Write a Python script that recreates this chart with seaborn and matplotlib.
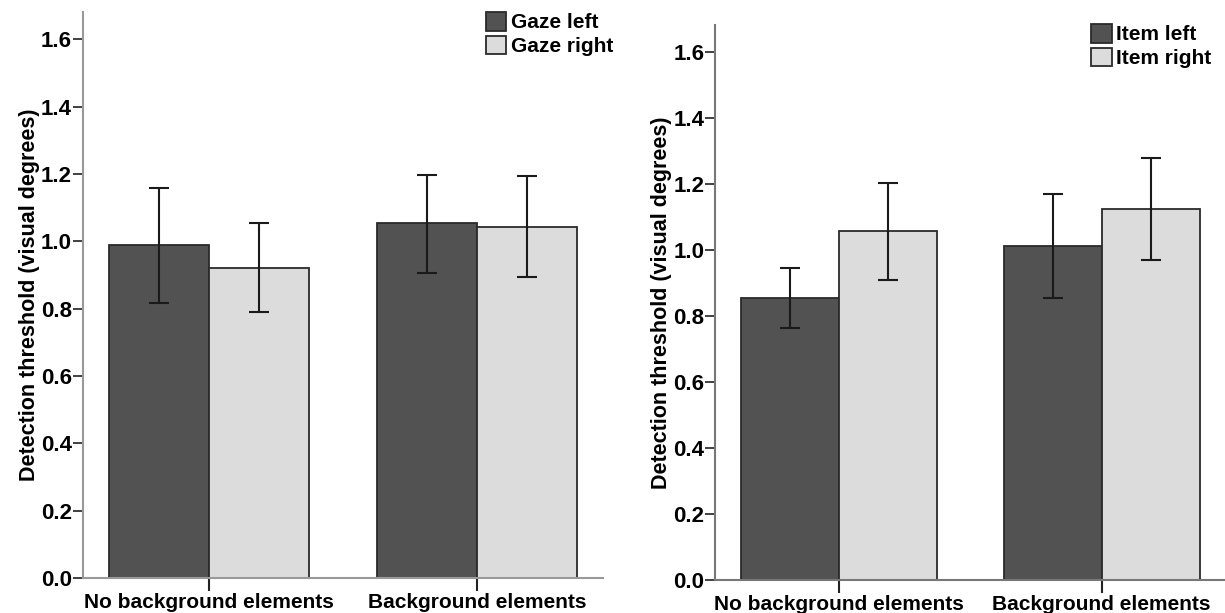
import numpy as np
import pandas as pd
import matplotlib
matplotlib.use("Agg")
import matplotlib.pyplot as plt
import seaborn as sns

conditions = ["No background elements", "Background elements"]

gaze_levels = ["Gaze left", "Gaze right"]
gaze_left_mean = [0.988, 1.053]
gaze_left_lo = [0.818, 0.905]
gaze_left_hi = [1.157, 1.197]
gaze_right_mean = [0.922, 1.043]
gaze_right_lo = [0.790, 0.893]
gaze_right_hi = [1.053, 1.193]

item_levels = ["Item left", "Item right"]
item_left_mean = [0.855, 1.012]
item_left_lo = [0.762, 0.853]
item_left_hi = [0.946, 1.170]
item_right_mean = [1.057, 1.123]
item_right_lo = [0.908, 0.968]
item_right_hi = [1.203, 1.278]

y_ticks = [0.0, 0.2, 0.4, 0.6, 0.8, 1.0, 1.2, 1.4, 1.6]
y_label = "Detection threshold (visual degrees)"

sns.set_theme(style="white")
plt.rcParams['font.family'] = ['Liberation Sans', 'DejaVu Sans']
plt.rcParams['text.color'] = 'black'
plt.rcParams['axes.labelcolor'] = 'black'
plt.rcParams['xtick.color'] = 'black'
plt.rcParams['ytick.color'] = 'black'

DARK = "#525252"
LIGHT = "#dcdcdc"

fig = plt.figure(figsize=(12.25, 6.13), dpi=100)
ax1 = fig.add_axes([0.0678, 0.057, 0.4242, 0.923])
ax2 = fig.add_axes([0.584, 0.054, 0.416, 0.905])


def draw(ax, levels, means, los, his, leg_anchor, spine_color):
    rows = []
    for lvl, m in zip(levels, means):
        for c, v in zip(conditions, m):
            rows.append({"cond": c, "level": lvl, "value": v})
    df = pd.DataFrame(rows)
    sns.barplot(data=df, x="cond", y="value", hue="level", order=conditions,
                hue_order=levels, palette=[DARK, LIGHT], width=0.746,
                errorbar=None, edgecolor="#2a2a2a", linewidth=1.3,
                saturation=1, ax=ax)
    for cont, lo, hi in zip(ax.containers, los, his):
        for bar, l, h in zip(cont, lo, hi):
            xc = bar.get_x() + bar.get_width() / 2
            ax.errorbar([xc], [(l + h) / 2], yerr=[[(h - l) / 2], [(h - l) / 2]],
                        fmt="none", ecolor="#1a1a1a", elinewidth=1.5,
                        capsize=7.2, capthick=1.5, zorder=5)
    ax.set_ylim(0, 1.68)
    ax.set_xlim(-0.47, 1.47)
    ax.set_yticks(y_ticks)
    ax.set_yticklabels([f"{t:.1f}" for t in y_ticks], fontsize=16, fontweight="bold")
    ax.set_xticks([0, 1])
    ax.set_xticklabels(conditions, fontsize=15, fontweight="bold")
    ax.set_xlabel("")
    ax.set_ylabel(y_label, fontsize=15.5, fontweight="bold", labelpad=1)
    for s in ["top", "right"]:
        ax.spines[s].set_visible(False)
    ax.spines["left"].set_color(spine_color)
    ax.spines["bottom"].set_color(spine_color)
    ax.spines["left"].set_linewidth(1.5)
    ax.spines["bottom"].set_linewidth(1.5)
    ax.tick_params(axis="y", left=True, direction="out", length=7, width=1.3,
                   color="#333333", pad=1)
    ax.tick_params(axis="x", bottom=True, direction="out", length=9, width=1.5,
                   color="#222222", pad=2)
    leg = ax.legend(loc="upper right", bbox_to_anchor=leg_anchor,
                    bbox_transform=fig.transFigure, frameon=False,
                    handlelength=1.0, handleheight=1.0, handletextpad=0.2,
                    labelspacing=0.15, borderaxespad=0.0, borderpad=0.0,
                    prop={"size": 15, "weight": "bold"})
    for h in leg.legend_handles:
        h.set_edgecolor("#2a2a2a")
        h.set_linewidth(1.3)


draw(ax1, gaze_levels, [gaze_left_mean, gaze_right_mean],
     [gaze_left_lo, gaze_right_lo], [gaze_left_hi, gaze_right_hi],
     (613 / 1225, 1 - 12 / 613), "#999999")
draw(ax2, item_levels, [item_left_mean, item_right_mean],
     [item_left_lo, item_right_lo], [item_left_hi, item_right_hi],
     (1211 / 1225, 1 - 24 / 613), "#777777")

fig.savefig("out.png", dpi=100)
